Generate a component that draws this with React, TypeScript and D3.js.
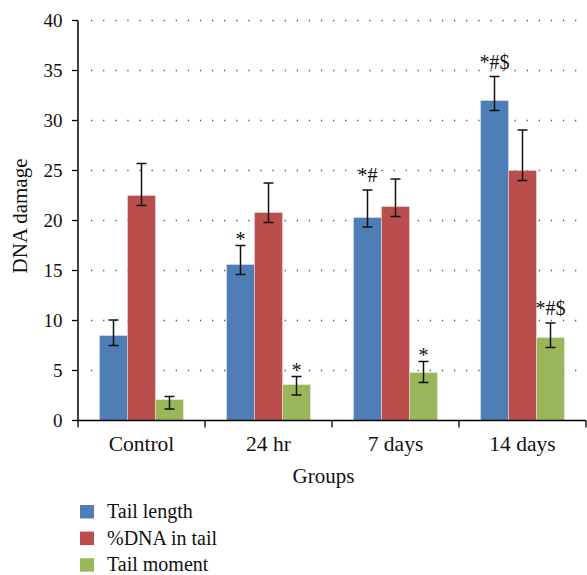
import React from "react";
import * as d3 from "d3";

const groups = ["Control", "24 hr", "7 days", "14 days"];
const seriesNames = ["Tail length", "%DNA in tail", "Tail moment"];
const seriesColors = ["#4F7EB6", "#BA4E4C", "#99B75A"];
// values[series][group]
const means = [
  [8.5, 15.6, 20.3, 32.0],
  [22.5, 20.8, 21.4, 25.0],
  [2.1, 3.6, 4.8, 8.3],
];
const errUpper = [
  [10.05, 17.5, 23.05, 34.4],
  [25.7, 23.75, 24.15, 29.05],
  [2.4, 4.4, 5.9, 9.75],
];
const errLower = [
  [7.5, 14.6, 19.35, 31.0],
  [21.5, 19.8, 20.4, 24.0],
  [1.15, 2.55, 3.8, 7.3],
];
const annotations = [
  { group: 1, series: 0, label: "*" },
  { group: 1, series: 2, label: "*" },
  { group: 2, series: 0, label: "*#" },
  { group: 2, series: 2, label: "*" },
  { group: 3, series: 0, label: "*#$" },
  { group: 3, series: 2, label: "*#$" },
];
const yTicks = [0, 5, 10, 15, 20, 25, 30, 35, 40];

const W = 587;
const H = 575;
const left = 78;
const right = 586;
const top = 20.5;
const bottom = 420.5;
const font = "'Liberation Serif', 'Times New Roman', serif";

export default function App() {
  const x0 = d3.scaleBand<string>().domain(groups).range([left, right]).padding(0);
  const groupW = 84;
  const x1 = d3
    .scaleBand<number>()
    .domain(d3.range(seriesNames.length))
    .range([0, groupW])
    .padding(0);
  const y = d3.scaleLinear().domain([0, 40]).range([bottom, top]);
  const off = (x0.bandwidth() - groupW) / 2;
  const barX = (g: number, s: number) => (x0(groups[g]) as number) + off + (x1(s) as number);
  const bw = x1.bandwidth();
  const cap = 5;

  const boundaries = [...groups.map((g) => x0(g) as number), right];

  return (
    <div style={{ position: "absolute", left: 0, top: 0 }}>
      <svg width={W} height={H} style={{ display: "block", background: "#fff" }} fontFamily={font}>
        {/* grid */}
        {yTicks
          .filter((t) => t > 0)
          .map((t) => (
            <line
              key={"g" + t}
              x1={left + 13}
              x2={right}
              y1={y(t)}
              y2={y(t)}
              stroke="#555"
              strokeWidth={1.3}
              strokeDasharray="1.3 10.8"
            />
          ))}
        {/* bars */}
        {means.map((row, s) =>
          row.map((v, g) => (
            <rect
              key={`b${s}-${g}`}
              x={barX(g, s)}
              y={y(v)}
              width={bw}
              height={bottom - y(v)}
              fill={seriesColors[s]}
              stroke="rgba(255,255,255,0.35)"
              strokeWidth={1}
            />
          ))
        )}
        {/* error bars */}
        {means.map((row, s) =>
          row.map((_, g) => {
            const cx = barX(g, s) + bw / 2;
            const yt = y(errUpper[s][g]);
            const yb = y(errLower[s][g]);
            return (
              <g key={`e${s}-${g}`} stroke="#111" strokeWidth={1.5}>
                <line x1={cx} x2={cx} y1={yt} y2={yb} />
                <line x1={cx - cap} x2={cx + cap} y1={yt} y2={yt} />
                <line x1={cx - cap} x2={cx + cap} y1={yb} y2={yb} />
              </g>
            );
          })
        )}
        {/* annotations */}
        {annotations.map((a, i) => {
          const cx = barX(a.group, a.series) + bw / 2;
          const yt = y(errUpper[a.series][a.group]);
          return (
            <text
              key={"a" + i}
              x={cx}
              y={yt - (a.label.length > 1 ? 8 : 0)}
              textAnchor="middle"
              fontSize={20}
              fill="#111"
            >
              {a.label}
            </text>
          );
        })}
        {/* y axis */}
        <line x1={left} x2={left} y1={top} y2={bottom} stroke="#000" strokeWidth={1.5} />
        {yTicks.map((t) => (
          <g key={"y" + t}>
            <line x1={left - 6} x2={left} y1={y(t)} y2={y(t)} stroke="#000" strokeWidth={1.3} />
            <text x={left - 15.5} y={y(t) + 6} textAnchor="end" fontSize={19} fill="#111">
              {t}
            </text>
          </g>
        ))}
        {/* x axis */}
        <line x1={left} x2={right} y1={bottom} y2={bottom} stroke="#000" strokeWidth={1.5} />
        {boundaries.map((b, i) => (
          <line key={"xt" + i} x1={b} x2={b} y1={bottom} y2={bottom + 7} stroke="#000" strokeWidth={1.3} />
        ))}
        {groups.map((g) => (
          <text
            key={"xl" + g}
            x={(x0(g) as number) + x0.bandwidth() / 2}
            y={451}
            textAnchor="middle"
            fontSize={21.5}
            fill="#111"
          >
            {g}
          </text>
        ))}
        <text x={323.5} y={482.5} textAnchor="middle" fontSize={21} fill="#111">
          Groups
        </text>
        <text
          transform={`translate(26.5, 216) rotate(-90)`}
          textAnchor="middle"
          fontSize={21}
          fill="#111"
        >
          DNA damage
        </text>
        {/* legend */}
        {seriesNames.map((n, i) => (
          <g key={"l" + n} transform={`translate(80, ${505 + i * 26.6})`}>
            <rect x={0} y={0} width={14} height={13.5} fill={seriesColors[i]} />
            <text x={27} y={13} fontSize={20} fill="#111">
              {n}
            </text>
          </g>
        ))}
      </svg>
    </div>
  );
}
